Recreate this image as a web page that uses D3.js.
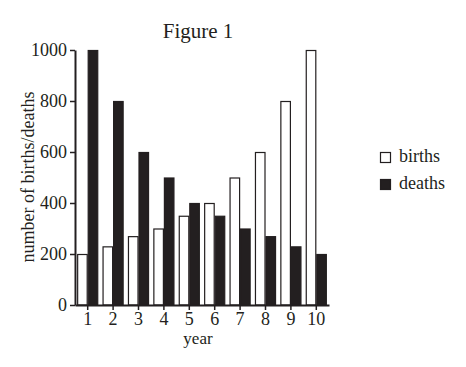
<!DOCTYPE html>
<html>
<head>
<meta charset="utf-8">
<script src="https://cdn.jsdelivr.net/npm/d3@7"></script>
<style>
  body { margin: 0; background: #fff; }
  svg text { font-family: "Liberation Serif", "Times New Roman", serif !important; fill: #231f20; }
</style>
</head>
<body>
<svg id="chart" width="466" height="367"></svg>
<script>
const years = [1, 2, 3, 4, 5, 6, 7, 8, 9, 10];
const births = [200, 230, 270, 300, 350, 400, 500, 600, 800, 1000];
const deaths = [1000, 800, 600, 500, 400, 350, 300, 270, 230, 200];
const yTicks = [0, 200, 400, 600, 800, 1000];
const seriesNames = ['births', 'deaths'];
const seriesFill = { births: '#fff', deaths: '#231f20' };

const svg = d3.select('#chart');
const ink = '#231f20';

const x = d3.scaleBand()
  .domain(years)
  .range([75, 329])
  .paddingInner(0.17)
  .paddingOuter(0.085);

const xSub = d3.scaleBand()
  .domain(seriesNames)
  .range([0, x.bandwidth()]);

const y = d3.scaleLinear()
  .domain([0, 1000])
  .range([305, 50]);

const rows = years.map((yr, i) => ({ year: yr, births: births[i], deaths: deaths[i] }));

// bars
const groups = svg.append('g')
  .selectAll('g.year')
  .data(rows)
  .enter()
  .append('g')
  .attr('class', 'year')
  .attr('transform', d => `translate(${x(d.year)},0)`);

groups.selectAll('rect')
  .data(d => seriesNames.map(k => ({ key: k, value: d[k] })))
  .enter()
  .append('rect')
  .attr('x', d => xSub(d.key) + 0.5)
  .attr('y', d => y(d.value) + 0.5)
  .attr('width', xSub.bandwidth() - 1)
  .attr('height', d => y(0) - y(d.value) - 0.5)
  .attr('fill', d => seriesFill[d.key])
  .attr('stroke', ink)
  .attr('stroke-width', 1.2);

// y axis
const yAxis = svg.append('g')
  .attr('transform', 'translate(75,0)')
  .call(d3.axisLeft(y).tickValues(yTicks).tickFormat(d3.format('d'))
    .tickSize(5).tickPadding(3).tickSizeOuter(0));

// x axis
const xAxis = svg.append('g')
  .attr('transform', 'translate(0,305)')
  .call(d3.axisBottom(x).tickSize(5).tickPadding(2).tickSizeOuter(0));

[yAxis, xAxis].forEach(ax => {
  ax.attr('font-family', null).attr('font-size', null);
  ax.select('.domain').attr('stroke', ink).attr('stroke-width', 2);
  ax.selectAll('.tick line').attr('stroke', ink).attr('stroke-width', 1.5);
  ax.selectAll('.tick text')
    .style('font-size', '18px')
    .attr('fill', ink);
});

// title
svg.append('text')
  .attr('x', 198)
  .attr('y', 38)
  .attr('text-anchor', 'middle')
  .style('font-size', '21px')
  .text('Figure 1');

// axis titles
svg.append('text')
  .attr('x', 198)
  .attr('y', 344)
  .attr('text-anchor', 'middle')
  .style('font-size', '17px')
  .text('year');

svg.append('text')
  .attr('transform', 'translate(34,177) rotate(-90)')
  .attr('text-anchor', 'middle')
  .style('font-size', '18px')
  .text('number of births/deaths');

// legend
const legend = svg.append('g')
  .selectAll('g')
  .data(seriesNames)
  .enter()
  .append('g')
  .attr('transform', (d, i) => `translate(380,${152 + i * 27})`);

legend.append('rect')
  .attr('x', 0.5)
  .attr('y', 0.5)
  .attr('width', 10)
  .attr('height', 10)
  .attr('fill', d => seriesFill[d])
  .attr('stroke', ink)
  .attr('stroke-width', 1.2);

legend.append('text')
  .attr('x', 19)
  .attr('y', 10)
  .style('font-size', '18px')
  .text(d => d);
</script>
</body>
</html>
